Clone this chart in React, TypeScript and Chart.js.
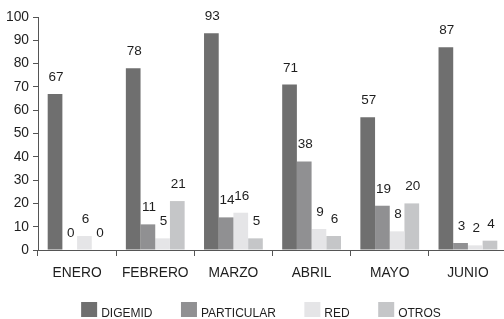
import React, { useEffect, useRef } from "react";
import { Chart, registerables } from "chart.js";

Chart.register(...registerables);

const categories = ["ENERO", "FEBRERO", "MARZO", "ABRIL", "MAYO", "JUNIO"];
const digemid = [67, 78, 93, 71, 57, 87];
const particular = [0, 11, 14, 38, 19, 3];
const red = [6, 5, 16, 9, 8, 2];
const otros = [0, 21, 5, 6, 20, 4];
const seriesNames = ["DIGEMID", "PARTICULAR", "RED", "OTROS"];
const yTicks = [0, 10, 20, 30, 40, 50, 60, 70, 80, 90, 100];

const FONT = '"Liberation Sans", Arial, sans-serif';
const TEXT = "#1e1e1e";
const AXIS = "#555555";

const dataLabelPlugin = {
  id: "dataLabels",
  afterDatasetsDraw(chart: any) {
    const ctx = chart.ctx;
    ctx.save();
    ctx.font = `13.5px ${FONT}`;
    ctx.fillStyle = TEXT;
    ctx.textAlign = "center";
    ctx.textBaseline = "alphabetic";
    chart.data.datasets.forEach((ds: any, i: number) => {
      const meta = chart.getDatasetMeta(i);
      meta.data.forEach((el: any, j: number) => {
        ctx.fillText(String(ds.data[j]), el.x + 1, el.y - 13);
      });
    });
    ctx.restore();
  },
};

const legendPlugin = {
  id: "customLegend",
  afterDraw(chart: any) {
    const ctx = chart.ctx;
    ctx.save();
    ctx.font = `12px ${FONT}`;
    const boxW = 16;
    const boxH = 15;
    const gap = 4;
    const itemGap = 28.5;
    const items = chart.data.datasets.map((ds: any) => ({
      label: ds.label,
      color: ds.backgroundColor,
      w: ctx.measureText(ds.label).width,
    }));
    const total =
      items.reduce((s: number, it: any) => s + boxW + gap + it.w, 0) +
      itemGap * (items.length - 1);
    let x = 261 - total / 2;
    const top = 302;
    ctx.textBaseline = "alphabetic";
    ctx.textAlign = "left";
    items.forEach((it: any) => {
      ctx.fillStyle = it.color;
      ctx.fillRect(x, top, boxW, boxH);
      ctx.fillStyle = TEXT;
      ctx.fillText(it.label, x + boxW + gap, top + boxH - 0.5);
      x += boxW + gap + it.w + itemGap;
    });
    ctx.restore();
  },
};

export default function App() {
  const ref = useRef<HTMLCanvasElement | null>(null);

  useEffect(() => {
    if (!ref.current) return;
    const colors = ["#6f6f6f", "#909092", "#e5e5e7", "#c5c6c8"];
    const values = [digemid, particular, red, otros];
    const chart = new Chart(ref.current, {
      type: "bar",
      data: {
        labels: categories,
        datasets: values.map((v, i) => ({
          label: seriesNames[i],
          data: v,
          backgroundColor: colors[i],
          borderWidth: 0,
          categoryPercentage: 0.752,
          barPercentage: 1,
        })),
      },
      options: {
        animation: false,
        responsive: true,
        maintainAspectRatio: false,
        layout: { padding: { left: 0, right: 1, top: 17, bottom: 25 } },
        plugins: {
          legend: { display: false },
          tooltip: { enabled: false },
        },
        scales: {
          x: {
            type: "category",
            offset: true,
            grid: {
              display: true,
              drawOnChartArea: false,
              drawTicks: true,
              tickLength: 6,
              color: AXIS,
              offset: true,
            },
            border: { display: true, color: AXIS, width: 1 },
            ticks: {
              padding: 9,
              color: TEXT,
              font: { family: FONT, size: 13.8 },
              maxRotation: 0,
              autoSkip: false,
            },
            afterFit: (s: any) => {
              s.height = 44;
            },
          },
          y: {
            min: 0,
            max: 100,
            afterBuildTicks: (s: any) => {
              s.ticks = yTicks.map((v) => ({ value: v }));
            },
            grid: {
              display: true,
              drawOnChartArea: false,
              drawTicks: true,
              tickLength: 5,
              color: AXIS,
            },
            border: { display: true, color: AXIS, width: 1 },
            ticks: {
              padding: 4,
              color: TEXT,
              font: { family: FONT, size: 13.8 },
            },
            afterFit: (s: any) => {
              s.width = 38;
            },
          },
        },
      },
      plugins: [dataLabelPlugin, legendPlugin],
    });
    return () => chart.destroy();
  }, []);

  return (
    <div
      style={{
        position: "fixed",
        left: 0,
        top: 0,
        width: 504,
        height: 319,
        overflow: "hidden",
        background: "#ffffff",
      }}
    >
      <div style={{ position: "relative", width: 508, height: 319 }}>
        <canvas ref={ref} />
      </div>
    </div>
  );
}
